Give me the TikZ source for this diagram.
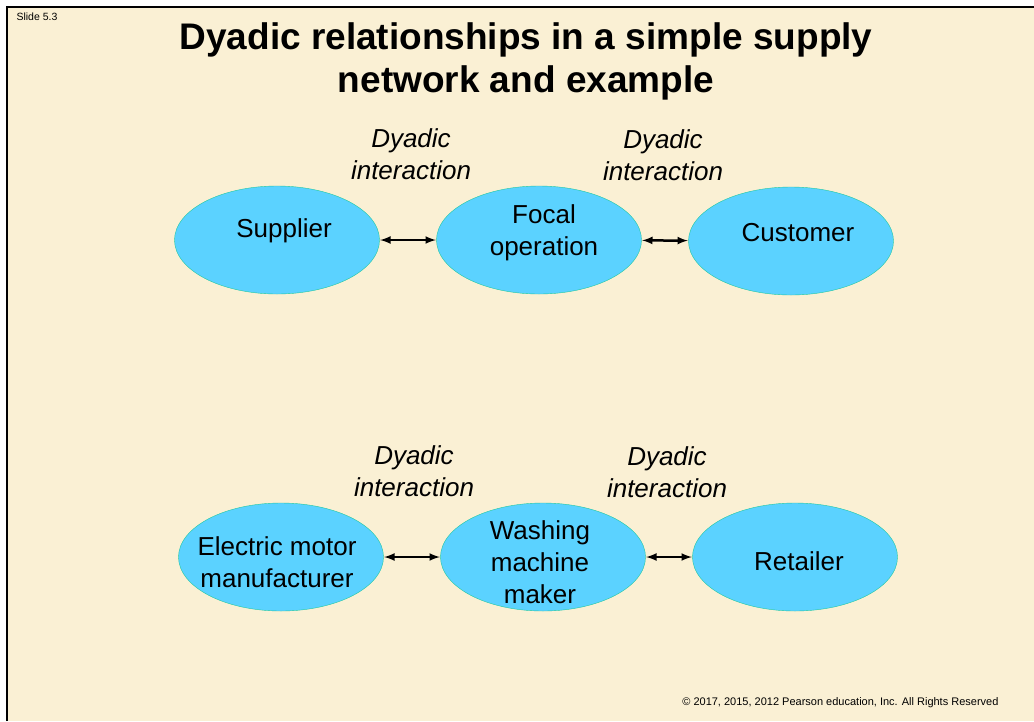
\documentclass[tikz,border=0pt]{standalone}
\usepackage{fontspec}
\setmainfont{Liberation Sans}
\usetikzlibrary{shapes.geometric,arrows}
\definecolor{slidebg}{RGB}{250,240,212}
\definecolor{opfill}{RGB}{91,210,255}
\definecolor{opline}{RGB}{30,200,160}
\begin{document}
\begin{tikzpicture}[x=1pt, y=-1pt]
%% slide coordinates are in pixels, y grows downwards
\tikzstyle{operation}=[ellipse,draw=opline,fill=opfill,thin,minimum width=205pt,minimum height=108pt,inner sep=0pt]
\tikzstyle{oplabel}=[align=center,font=\fontsize{26}{32}\selectfont]
\tikzstyle{interaction}=[<->,>=latex,line width=2.5pt,black,shorten <=0.5pt,shorten >=0.5pt]
\tikzstyle{dyadlabel}=[align=center,font=\fontsize{26}{32}\selectfont\itshape]
%% slide background and frame
\useasboundingbox (0,0) rectangle (1034,721);
\fill[slidebg] (8,8) rectangle (1034,721);
\draw[line width=2pt] (7,721) -- (7,7) -- (1034,7);
\node[anchor=west,font=\fontsize{10.5}{12}\selectfont] at (13,17) (Slide_No) {Slide 5.3};
\node[align=center,font=\fontsize{37}{43}\bfseries] at (526,61) (Title) {Dyadic relationships in a simple supply\\network and example};
%% generic supply network
\node[operation] at (277,240) (Supplier) {};
%% label for Supplier
\draw (284,231) node[oplabel] {Supplier};
\node[operation] at (539,240) (Focal_Operation) {};
%% label for Focal_Operation
\draw (544,233) node[oplabel] {Focal\\operation};
\node[operation] at (791,241) (Customer) {};
%% label for Customer
\draw (798,233) node[oplabel] {Customer};
\node[dyadlabel] at (411,154) (Dyad_A) {Dyadic\\interaction};
\node[dyadlabel] at (663,155) (Dyad_B) {Dyadic\\interaction};
\draw[interaction] (Supplier) -- (Focal_Operation);
\draw[interaction] (Focal_Operation) -- (Customer);
%% example network
\node[operation] at (281,557) (Motor_Maker) {};
%% label for Motor_Maker
\draw (277,562) node[oplabel] {Electric motor\\manufacturer};
\node[operation] at (543,557) (Washing_Maker) {};
%% label for Washing_Maker
\draw (540,562) node[oplabel] {Washing\\machine\\maker};
\node[operation] at (795,557) (Retailer) {};
%% label for Retailer
\draw (799,561) node[oplabel] {Retailer};
\node[dyadlabel] at (414,471) (Dyad_C) {Dyadic\\interaction};
\node[dyadlabel] at (667,472) (Dyad_D) {Dyadic\\interaction};
\draw[interaction] (Motor_Maker) -- (Washing_Maker);
\draw[interaction] (Washing_Maker) -- (Retailer);
%% footer
\node[anchor=east,font=\fontsize{11}{12}\selectfont] at (1002,703) (Copyright) {\copyright{} 2017, 2015, 2012 Pearson education, Inc. All Rights Reserved};
\end{tikzpicture}
\end{document}
